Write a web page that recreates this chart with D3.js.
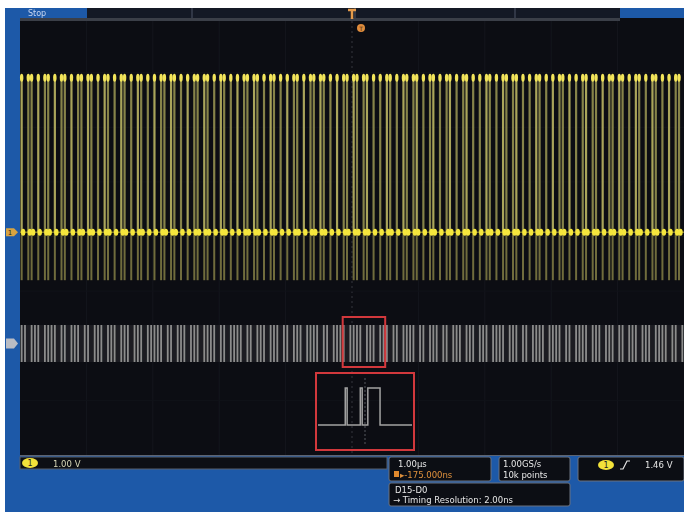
<!DOCTYPE html>
<html>
<head>
<meta charset="utf-8">
<script src="https://cdn.jsdelivr.net/npm/d3@7"></script>
<style>
  body { margin: 0; background: #fff; }
  svg { display: block; }
  text { font-family: "DejaVu Sans", sans-serif; }
</style>
</head>
<body>
<svg id="scope" width="684" height="512"></svg>
<script>
// ch1 edge slots, 200 slots across 10 divisions (1 = edge seen in that slot)
const ch1Bits = [
  "10110101101011010110", "11010110101101011010", "10110110101011011010",
  "11010101101101011010", "10110101101101010110", "11011010101101011011",
  "01011010110101101010", "11010110110101011010", "10110101011011010110",
  "11010110101101010110"
].join('');

// D15-D0 bus transitions, same slot grid
const busBits = [
  "11011101111011011101", "10111011101110111011", "11101101110111011110",
  "11011110110111011101", "10111011110110111101", "11101110111011011110",
  "11011101101110111011", "10111101110110111101", "11101101111011101110",
  "11011101110111101101"
].join('');

// ch1 levels (V)
const ch1Levels = {high: 2.87, low: 0, under: -0.88};

// zoomed bus waveform: [time ns, level]
const zoomTimes  = [-50, -21, -21, -19, -19, -5, -5, -3, -3, 3, 3, 16, 16, 50];
const zoomLevels = [  0,   0,   1,   1,   0,  0,  1,  1,  0, 0, 1,  1,  0,  0];

// zoom window in main record (µs)
const zoomWindow = [-0.14, 0.50];

// readouts
const chScale = "1.00 V";
const timeScale = "1.00µs";
const delay = "▸-175.000ns";
const sampleRate = "1.00GS/s";
const recLength = "10k points";
const trigLevel = "1.46 V";
const busName = "D15-D0";
const timingRes = "→ Timing Resolution: 2.00ns";

const svg = d3.select('#scope');

const defs = svg.append('defs');
defs.append('filter').attr('id', 'soft').attr('x', '-5%').attr('y', '-5%').attr('width', '110%').attr('height', '110%')
  .append('feGaussianBlur').attr('stdDeviation', 0.7);
defs.append('filter').attr('id', 'softer')
  .append('feGaussianBlur').attr('stdDeviation', 0.45);

const screen = {left: 20, right: 684, top: 18, bottom: 455};
const x = d3.scaleLinear().domain([-5, 5]).range([screen.left, screen.right]);
const yDiv = d3.scaleLinear().domain([-4, 4]).range([screen.bottom, screen.top]);
const y1 = d3.scaleLinear().domain([-4.08, 3.92]).range([screen.bottom, screen.top]);
const yBus = d3.scaleLinear().domain([0, 1]).range([362, 325]);

const slotTime = i => -5 + (i + 0.5) * 10 / ch1Bits.length;

// frame
svg.append('rect').attr('x', 5).attr('y', 8).attr('width', 679).attr('height', 504).attr('fill', '#1d59a8');
svg.append('rect').attr('x', screen.left).attr('y', screen.top)
  .attr('width', screen.right - screen.left).attr('height', screen.bottom - screen.top)
  .attr('fill', '#0c0d13');

// top bar
svg.append('rect').attr('x', 87).attr('y', 8).attr('width', 533).attr('height', 10).attr('fill', '#141925');
[192, 355, 515].forEach(px => svg.append('line').attr('x1', px).attr('x2', px).attr('y1', 8).attr('y2', 18)
  .attr('stroke', '#3a4150').attr('stroke-width', 1.5));
svg.append('rect').attr('x', 20).attr('y', 18).attr('width', 600).attr('height', 3).attr('fill', '#3b3f48');
svg.append('text').attr('x', 28).attr('y', 16).attr('fill', '#c8d6f0').attr('font-size', 8)
  .attr('filter', 'url(#softer)').text('Stop');

// graticule
const grid = svg.append('g').attr('stroke-width', 1);
d3.range(-4, 5).forEach(d => grid.append('line')
  .attr('x1', x(d)).attr('x2', x(d)).attr('y1', screen.top + 3).attr('y2', screen.bottom)
  .attr('stroke-dasharray', d === 0 ? '2,3' : null)
  .attr('stroke', d === 0 ? '#34373f' : '#14161d'));
d3.range(-3, 4).forEach(d => grid.append('line')
  .attr('x1', screen.left).attr('x2', screen.right).attr('y1', yDiv(d)).attr('y2', yDiv(d))
  .attr('stroke', '#111319'));

// ch1 trace
const ch1 = svg.append('g').attr('filter', 'url(#soft)');
const ch1Slots = d3.range(ch1Bits.length).filter(i => ch1Bits[i] === '1');
ch1.selectAll('line.lo').data(ch1Slots).join('line')
  .attr('x1', i => x(slotTime(i))).attr('x2', i => x(slotTime(i)))
  .attr('y1', y1(ch1Levels.under)).attr('y2', y1(ch1Levels.low))
  .attr('stroke', '#6f6c3c').attr('stroke-width', 2);
ch1.selectAll('line.hi').data(ch1Slots).join('line')
  .attr('x1', i => x(slotTime(i))).attr('x2', i => x(slotTime(i)))
  .attr('y1', y1(ch1Levels.low)).attr('y2', y1(ch1Levels.high))
  .attr('stroke', (i, k) => k % 3 === 0 ? '#a9a45a' : '#86834a').attr('stroke-width', 2.2);
ch1.selectAll('ellipse.top').data(ch1Slots).join('ellipse')
  .attr('cx', i => x(slotTime(i))).attr('cy', y1(ch1Levels.high) + 2.5)
  .attr('rx', 1.7).attr('ry', 4).attr('fill', '#f2e45a');
ch1.append('line').attr('x1', screen.left).attr('x2', screen.right)
  .attr('y1', y1(ch1Levels.low)).attr('y2', y1(ch1Levels.low))
  .attr('stroke', '#c9c03c').attr('stroke-width', 1.5).attr('opacity', 0.6);
ch1.selectAll('ellipse.base').data(ch1Slots).join('ellipse')
  .attr('cx', i => x(slotTime(i)) + 1.5).attr('cy', y1(ch1Levels.low))
  .attr('rx', 2.2).attr('ry', 3.5).attr('fill', '#f5e63c');

// bus
const bus = svg.append('g').attr('filter', 'url(#soft)');
bus.append('rect').attr('x', screen.left).attr('y', yBus(1)).attr('width', screen.right - screen.left)
  .attr('height', yBus(0) - yBus(1)).attr('fill', '#1c1d21');
const busSlots = d3.range(busBits.length).filter(i => busBits[i] === '1');
bus.selectAll('line').data(busSlots).join('line')
  .attr('x1', i => x(slotTime(i))).attr('x2', i => x(slotTime(i)))
  .attr('y1', yBus(1)).attr('y2', yBus(0))
  .attr('stroke', '#8c8c8c').attr('stroke-width', 1.8);

// zoom window marker
svg.append('rect').attr('x', x(zoomWindow[0])).attr('y', 317)
  .attr('width', x(zoomWindow[1]) - x(zoomWindow[0])).attr('height', 50)
  .attr('fill', 'none').attr('stroke', '#d2383c').attr('stroke-width', 2);

// zoom view
const zx = d3.scaleLinear().domain([-50, 50]).range([318, 412]);
const zy = d3.scaleLinear().domain([0, 1]).range([425, 388]);
svg.append('line').attr('x1', zx(0)).attr('x2', zx(0)).attr('y1', 378).attr('y2', 446)
  .attr('stroke', '#55585f').attr('stroke-dasharray', '2,2');
svg.append('path')
  .datum(d3.zip(zoomTimes, zoomLevels))
  .attr('d', d3.line().x(d => zx(d[0])).y(d => zy(d[1])))
  .attr('fill', 'none').attr('stroke', '#a2a2a2').attr('stroke-width', 1.5)
  .attr('filter', 'url(#softer)');
svg.append('rect').attr('x', 316).attr('y', 373).attr('width', 98).attr('height', 77)
  .attr('fill', 'none').attr('stroke', '#d2383c').attr('stroke-width', 2);

// trigger markers
svg.append('path').attr('d', `M${x(0) - 4},10 h8 M${x(0)},10 v9`).attr('stroke', '#e49a4a').attr('stroke-width', 2.5);
svg.append('circle').attr('cx', x(0) + 9).attr('cy', 28).attr('r', 4).attr('fill', '#e08c3c');
svg.append('text').attr('x', x(0) + 9).attr('y', 30.5).attr('text-anchor', 'middle')
  .attr('font-size', 6).attr('fill', '#4a2a10').text('T');

// channel markers
svg.append('path').attr('d', `M6,${y1(0) - 4} h8 l4,4 l-4,4 h-8 z`).attr('fill', '#d9a441');
svg.append('text').attr('x', 10).attr('y', y1(0) + 3).attr('text-anchor', 'middle')
  .attr('font-size', 7).attr('fill', '#222').text('1');
svg.append('path').attr('d', `M6,${yBus(0.5) - 5} h8 l4,5 l-4,5 h-8 z`).attr('fill', '#b9bcc4');

// status bar
svg.append('line').attr('x1', 20).attr('x2', 684).attr('y1', 455.5).attr('y2', 455.5).attr('stroke', '#5d6472');
svg.append('rect').attr('x', 20).attr('y', 457).attr('width', 367).attr('height', 12)
  .attr('fill', '#0d0f14').attr('stroke', '#59606c');
svg.append('ellipse').attr('cx', 30).attr('cy', 463).attr('rx', 8).attr('ry', 5).attr('fill', '#f3e23a');
svg.append('text').attr('x', 30).attr('y', 466).attr('text-anchor', 'middle').attr('font-size', 8).attr('fill', '#222').text('1');

const box = (bx, by, bw, bh) => svg.append('rect').attr('x', bx).attr('y', by).attr('width', bw).attr('height', bh)
  .attr('rx', 2).attr('fill', '#0c0e14').attr('stroke', '#6b7280').attr('stroke-width', 1);
box(389, 457, 102, 24);
box(499, 457, 71, 24);
box(578, 457, 106, 24);
box(389, 483, 181, 23);

const labels = svg.append('g').attr('filter', 'url(#softer)');
const txt = (tx, ty, s, fill) => labels.append('text').attr('x', tx).attr('y', ty)
  .attr('font-size', 8.5).attr('fill', fill || '#e6e6e6').text(s);
txt(53, 466.5, chScale, '#d8d8b8');
txt(398, 467, timeScale);
labels.append('rect').attr('x', 394).attr('y', 471).attr('width', 5).attr('height', 6).attr('fill', '#e0892e');
txt(400, 478, delay, '#e0913c');
txt(503, 467, sampleRate);
txt(503, 478, recLength);
svg.append('ellipse').attr('cx', 606).attr('cy', 465).attr('rx', 8).attr('ry', 5).attr('fill', '#f3e23a');
svg.append('text').attr('x', 606).attr('y', 468).attr('text-anchor', 'middle').attr('font-size', 8).attr('fill', '#222').text('1');
svg.append('path').attr('d', 'M620,469 l3,0 l4,-8 l3,0').attr('fill', 'none').attr('stroke', '#e6e6e6').attr('stroke-width', 1.2);
txt(645, 468, trigLevel);
txt(395, 493, busName);
txt(393, 503, timingRes);
</script>
</body>
</html>
